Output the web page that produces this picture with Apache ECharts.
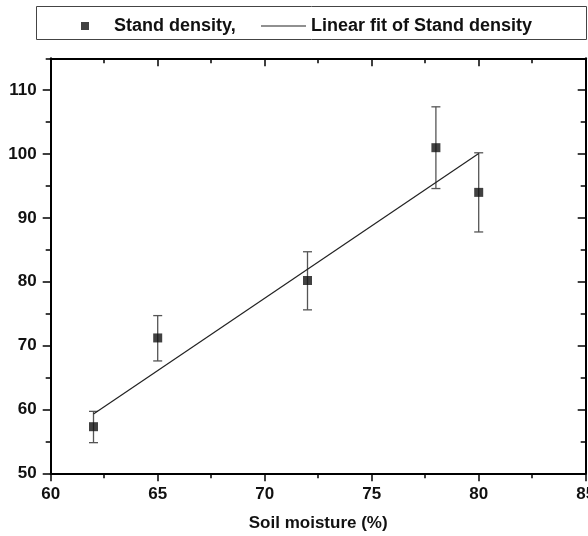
<!DOCTYPE html>
<html>
<head>
<meta charset="utf-8">
<script src="https://cdn.jsdelivr.net/npm/echarts@6/dist/echarts.min.js"></script>
<style>
  html, body { margin: 0; padding: 0; background: #fff; }
  #main { width: 588px; height: 536px; }
</style>
</head>
<body>
<div id="main"></div>
<script>
// soil moisture (%) of each plot
const moisture = [62, 65, 72, 78, 80];
// stand density, mean and error bar ends
const density = [57.3, 71.2, 80.2, 101.0, 94.0];
const densityLow = [54.8, 67.6, 75.6, 94.6, 87.8];
const densityHigh = [59.7, 74.7, 84.7, 107.4, 100.2];
// linear fit end points
const fitX = [62, 80];
const fitY = [59.3, 100.1];

const font = "'Liberation Sans', Arial, sans-serif";

const scatterData = moisture.map((x, i) => [x, density[i]]);
const errData = moisture.map((x, i) => [x, densityLow[i], densityHigh[i]]);
const fitData = fitX.map((x, i) => [x, fitY[i]]);

const axisLine = { show: true, lineStyle: { color: '#000', width: 2 } };
const labelStyle = { color: '#111', fontSize: 17, fontWeight: 'bold', fontFamily: font };

var myChart = echarts.init(document.getElementById('main'));

var option = {
  animation: false,
  grid: { left: 50.7, right: 2.3, top: 58.3, bottom: 62.7, containLabel: false, outerBoundsMode: 'none' },
  graphic: [{
    type: 'rect',
    shape: { x: 36.5, y: 6.5, width: 550, height: 33 },
    style: { fill: 'none', stroke: '#444', lineWidth: 1 }
  }],
  legend: [
    {
      data: ['Stand density,'],
      left: 81, top: 17, padding: 0,
      icon: 'rect',
      itemWidth: 8, itemHeight: 8,
      textStyle: { color: '#111', fontSize: 18, fontWeight: 'bold', fontFamily: font, padding: [0, 0, 0, 20] }
    },
    {
      data: ['Linear fit of Stand density'],
      left: 261, top: 17, padding: 0,
      icon: 'rect',
      itemWidth: 45, itemHeight: 1.2,
      textStyle: { color: '#111', fontSize: 18, fontWeight: 'bold', fontFamily: font }
    }
  ],
  xAxis: [
    {
      type: 'value', position: 'bottom', min: 60, max: 85, interval: 5,
      axisLine: axisLine,
      axisTick: { show: true, length: 8, lineStyle: { color: '#000', width: 1.5 } },
      minorTick: { show: true, splitNumber: 2, length: 5, lineStyle: { color: '#000', width: 1.5 } },
      axisLabel: Object.assign({ margin: 13 }, labelStyle),
      splitLine: { show: false },
      name: 'Soil moisture (%)', nameLocation: 'middle', nameGap: 42,
      nameTextStyle: { color: '#111', fontSize: 17, fontWeight: 'bold', fontFamily: font }
    },
    {
      type: 'value', position: 'top', min: 60, max: 85, interval: 5,
      axisLine: axisLine,
      axisTick: { show: true, inside: true, length: 8, lineStyle: { color: '#000', width: 1.5 } },
      minorTick: { show: true, splitNumber: 2, length: 5, lineStyle: { color: '#000', width: 1.5 } },
      axisLabel: { show: false },
      splitLine: { show: false }
    }
  ],
  yAxis: [
    {
      type: 'value', position: 'left', min: 50, max: 115, interval: 10,
      axisLine: axisLine,
      axisTick: { show: true, length: 8, lineStyle: { color: '#000', width: 1.5 } },
      axisLabel: Object.assign({ margin: 14, showMaxLabel: false }, labelStyle),
      splitLine: { show: false }
    },
    {
      type: 'value', position: 'left', min: 50, max: 115, interval: 5,
      axisLine: { show: false },
      axisTick: { show: true, length: 5, lineStyle: { color: '#000', width: 1.5 } },
      axisLabel: { show: false },
      splitLine: { show: false }
    },
    {
      type: 'value', position: 'right', min: 50, max: 115, interval: 10,
      axisLine: axisLine,
      axisTick: { show: true, inside: true, length: 8, lineStyle: { color: '#000', width: 1.5 } },
      axisLabel: { show: false },
      splitLine: { show: false }
    },
    {
      type: 'value', position: 'right', min: 50, max: 115, interval: 5,
      axisLine: { show: false },
      axisTick: { show: true, inside: true, length: 5, lineStyle: { color: '#000', width: 1.5 } },
      axisLabel: { show: false },
      splitLine: { show: false }
    }
  ],
  series: [
    {
      name: 'error',
      type: 'custom',
      xAxisIndex: 0, yAxisIndex: 0,
      data: errData,
      encode: { x: 0, y: [1, 2] },
      z: 2,
      renderItem: function (params, api) {
        var x = api.value(0);
        var top = api.coord([x, api.value(2)]);
        var bot = api.coord([x, api.value(1)]);
        var hw = 4.5;
        var st = { stroke: '#555', lineWidth: 1.3 };
        return {
          type: 'group',
          children: [
            { type: 'line', shape: { x1: top[0], y1: top[1], x2: bot[0], y2: bot[1] }, style: st },
            { type: 'line', shape: { x1: top[0] - hw, y1: top[1], x2: top[0] + hw, y2: top[1] }, style: st },
            { type: 'line', shape: { x1: bot[0] - hw, y1: bot[1], x2: bot[0] + hw, y2: bot[1] }, style: st }
          ]
        };
      }
    },
    {
      name: 'Linear fit of Stand density',
      type: 'line',
      xAxisIndex: 0, yAxisIndex: 0,
      data: fitData,
      symbol: 'none',
      lineStyle: { color: '#222', width: 1.2 },
      itemStyle: { color: '#222' },
      z: 3
    },
    {
      name: 'Stand density,',
      type: 'scatter',
      xAxisIndex: 0, yAxisIndex: 0,
      data: scatterData,
      symbol: 'rect',
      symbolSize: 9,
      itemStyle: { color: '#111' },
      z: 4
    }
  ]
};

myChart.setOption(option);
</script>
</body>
</html>
